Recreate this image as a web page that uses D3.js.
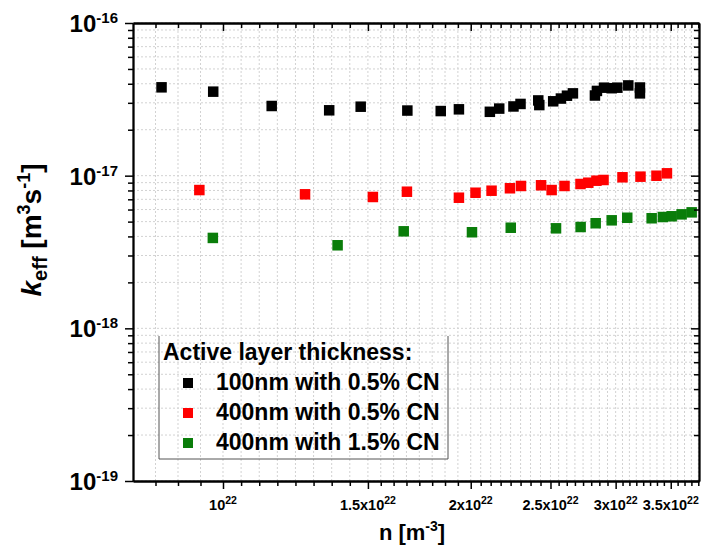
<html>
<head>
<title>k_eff vs n</title>
<script src="https://d3js.org/d3.v7.min.js" charset="utf-8"></script>
<style>
body { margin: 0; background: white; }
svg { font-family: "Liberation Sans", Arial, sans-serif; font-weight: bold; }
.grid line { stroke: #d2d2d2; stroke-width: 1; stroke-dasharray: 2,2; }
.axis path, .axis line { stroke: black; }
.axis line { stroke-width: 1.5; }
.axis path { stroke-width: 1.8; }
</style>
</head>
<body>
<script>
// n in units of 1e22 m^-3, k in units of 1e-17 m^3 s^-1
var n_100_05 = [0.842, 0.973, 1.146, 1.346, 1.470, 1.675, 1.839, 1.935, 2.110, 2.166, 2.254, 2.299, 2.416, 2.423, 2.519, 2.574, 2.618, 2.662, 2.831, 2.847, 2.904, 2.967, 3.014, 3.108, 3.211, 3.211];
var k_100_05 = [3.79, 3.55, 2.86, 2.68, 2.83, 2.67, 2.65, 2.72, 2.62, 2.75, 2.84, 2.95, 3.11, 2.90, 3.07, 3.20, 3.34, 3.46, 3.35, 3.59, 3.77, 3.74, 3.77, 3.90, 3.78, 3.46];

var n_400_05 = [0.936, 1.258, 1.521, 1.673, 1.935, 2.027, 2.120, 2.232, 2.302, 2.435, 2.508, 2.600, 2.719, 2.779, 2.843, 2.900, 3.058, 3.216, 3.363, 3.463];
var k_400_05 = [0.805, 0.755, 0.725, 0.785, 0.717, 0.773, 0.797, 0.827, 0.856, 0.865, 0.805, 0.856, 0.882, 0.899, 0.927, 0.937, 0.976, 0.985, 0.999, 1.036];

var n_400_15 = [0.972, 1.378, 1.658, 2.007, 2.237, 2.539, 2.720, 2.837, 2.967, 3.099, 3.318, 3.424, 3.509, 3.608, 3.711];
var k_400_15 = [0.391, 0.350, 0.432, 0.426, 0.456, 0.452, 0.461, 0.488, 0.510, 0.530, 0.526, 0.536, 0.542, 0.558, 0.575];

var seriesNames = ["100nm with 0.5% CN", "400nm with 0.5% CN", "400nm with 1.5% CN"];
var seriesColors = ["#000000", "#ff0000", "#0a7d0a"];
var legendTitle = "Active layer thickness:";

var xMajors = [1, 1.5, 2, 2.5, 3, 3.5];
var xTickPrefix = ["", "1.5x", "2x", "2.5x", "3x", "3.5x"];
var yMajors = [0.01, 0.1, 1, 10];
var yTickExp = ["-19", "-18", "-17", "-16"];

var width = 702, height = 551;
var margin = {top: 23, left: 133, right: 3, bottom: 70};
var w = width - margin.left - margin.right;
var h = height - margin.top - margin.bottom;

var x = d3.scaleLog().domain([0.7774, 3.788]).range([0, w]);
var y = d3.scaleLog().domain([0.01, 10]).range([h, 0]);

// minor ticks on x: evenly spaced (log) between majors, like the original
var xMinor = [];
var d0 = x.domain()[0], d1 = x.domain()[1];
for (var i = 1; i < 4; i++) xMinor.push(d0 * Math.pow(1 / d0, i / 4));
for (var j = 0; j < xMajors.length - 1; j++) {
  for (var i = 1; i < 8; i++) xMinor.push(xMajors[j] * Math.pow(xMajors[j + 1] / xMajors[j], i / 8));
}
var stepR = Math.pow(3.5 / 3, 1 / 8);
for (var v = 3.5 * stepR; v < d1 * 0.999; v *= stepR) xMinor.push(v);

var yAll = y.ticks();
var yMinor = yAll.filter(function(d) { return Math.abs(Math.log10(d) - Math.round(Math.log10(d))) > 1e-6; });

var svg = d3.select("body").append("svg")
  .attr("width", width).attr("height", height);
var g = svg.append("g").attr("transform", "translate(" + margin.left + "," + margin.top + ")");

// grid
var grid = g.append("g").attr("class", "grid");
grid.selectAll(".gx").data(xMajors.concat(xMinor)).enter().append("line")
  .attr("x1", function(d) { return x(d); }).attr("x2", function(d) { return x(d); })
  .attr("y1", 0).attr("y2", h);
grid.selectAll(".gy").data(yAll).enter().append("line")
  .attr("y1", function(d) { return y(d); }).attr("y2", function(d) { return y(d); })
  .attr("x1", 0).attr("x2", w);

// data
var series = [
  {n: n_100_05, k: k_100_05},
  {n: n_400_05, k: k_400_05},
  {n: n_400_15, k: k_400_15}
];
var sq = 10.5;
series.forEach(function(s, si) {
  var pts = s.n.map(function(d, i) { return [d, s.k[i]]; });
  g.append("g").selectAll("rect").data(pts).enter().append("rect")
    .attr("x", function(d) { return x(d[0]) - sq / 2; })
    .attr("y", function(d) { return y(d[1]) - sq / 2; })
    .attr("width", sq).attr("height", sq)
    .attr("fill", seriesColors[si]);
});

// axes
function addAxis(axis, tr) {
  return g.append("g").attr("class", "axis").attr("transform", tr).call(axis);
}
addAxis(d3.axisBottom(x).tickValues(xMajors).tickSize(8).tickSizeOuter(0).tickFormat(""), "translate(0," + h + ")");
addAxis(d3.axisBottom(x).tickValues(xMinor).tickSize(5).tickSizeOuter(0).tickFormat(""), "translate(0," + h + ")");
addAxis(d3.axisTop(x).tickValues(xMajors).tickSize(-8).tickSizeOuter(0).tickFormat(""), "translate(0,0)");
addAxis(d3.axisTop(x).tickValues(xMinor).tickSize(-5).tickSizeOuter(0).tickFormat(""), "translate(0,0)");
addAxis(d3.axisLeft(y).tickValues(yMajors).tickSize(8).tickSizeOuter(0).tickFormat(""), "translate(0,0)");
addAxis(d3.axisLeft(y).tickValues(yMinor).tickSize(5).tickSizeOuter(0).tickFormat(""), "translate(0,0)");
addAxis(d3.axisRight(y).tickValues(yMajors).tickSize(-8).tickSizeOuter(0).tickFormat(""), "translate(" + w + ",0)");
addAxis(d3.axisRight(y).tickValues(yMinor).tickSize(-5).tickSizeOuter(0).tickFormat(""), "translate(" + w + ",0)");

// y tick labels
var yl = g.append("g").selectAll("text").data(yMajors).enter().append("text")
  .attr("x", -15).attr("y", function(d) { return y(d) + 9; })
  .attr("text-anchor", "end");
yl.append("tspan").attr("font-size", 24).text("10");
yl.append("tspan").attr("font-size", 15).attr("dy", -9).text(function(d, i) { return yTickExp[i]; });

// x tick labels
var xl = g.append("g").selectAll("text").data(xMajors).enter().append("text")
  .attr("x", function(d) { return x(d); }).attr("y", h + 29)
  .attr("text-anchor", "middle");
xl.append("tspan").attr("font-size", 14.5).text(function(d, i) { return xTickPrefix[i] + "10"; });
xl.append("tspan").attr("font-size", 10.5).attr("dy", -6).text("22");

// x title
var xt = svg.append("text").attr("x", 412).attr("y", 540).attr("text-anchor", "middle");
xt.append("tspan").attr("font-size", 22).text("n [m");
xt.append("tspan").attr("font-size", 14).attr("dy", -9).text("-3");
xt.append("tspan").attr("font-size", 22).attr("dy", 9).text("]");

// y title
var yt = svg.append("text").attr("transform", "translate(41,230) rotate(-90)").attr("text-anchor", "middle");
yt.append("tspan").attr("font-size", 28).attr("font-style", "italic").text("k");
yt.append("tspan").attr("font-size", 20).attr("dy", 6).text("eff");
yt.append("tspan").attr("font-size", 28).attr("dy", -6).text(" [m");
yt.append("tspan").attr("font-size", 18).attr("dy", -11).text("3");
yt.append("tspan").attr("font-size", 28).attr("dy", 11).text("s");
yt.append("tspan").attr("font-size", 18).attr("dy", -11).text("-1");
yt.append("tspan").attr("font-size", 28).attr("dy", 11).text("]");

// legend
var lg = svg.append("g");
lg.append("path").attr("d", "M159,336V459H448V336").attr("fill", "none").attr("stroke", "#555").attr("stroke-width", 1);
lg.append("text").attr("x", 163).attr("y", 360).attr("font-size", 23).text(legendTitle);
seriesNames.forEach(function(name, i) {
  lg.append("rect").attr("x", 183).attr("y", 378 + i * 30).attr("width", 10).attr("height", 10)
    .attr("fill", seriesColors[i]);
  lg.append("text").attr("x", 216).attr("y", 390 + i * 30).attr("font-size", 23).text(name);
});
</script>
</body>
</html>
